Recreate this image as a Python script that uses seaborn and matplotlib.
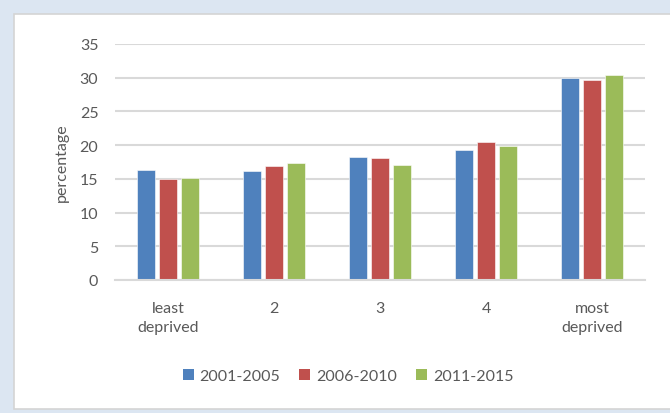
import matplotlib
matplotlib.use("Agg")
import matplotlib.pyplot as plt
from matplotlib.patches import Rectangle, Patch
import seaborn as sns
import pandas as pd

# Deprivation quintiles and the three periods
categories = ["least\ndeprived", "2", "3", "4", "most\ndeprived"]
periods = ["2001-2005", "2006-2010", "2011-2015"]
values_2001_2005 = [16.3, 16.1, 18.3, 19.3, 30.0]
values_2006_2010 = [15.0, 16.9, 18.1, 20.5, 29.7]
values_2011_2015 = [15.2, 17.3, 17.1, 19.9, 30.4]
y_ticks = [0, 5, 10, 15, 20, 25, 30, 35]

colors = ["#4f81bd", "#c0504d", "#9bbb59"]
text_color = "#595959"
grid_color = "#d9d9d9"
fs = 11.5

df = pd.DataFrame({
    "category": categories * 3,
    "period": [periods[0]] * 5 + [periods[1]] * 5 + [periods[2]] * 5,
    "value": values_2001_2005 + values_2006_2010 + values_2011_2015,
})

sns.set_theme(style="white")
plt.rcParams["font.family"] = ["Lato", "DejaVu Sans"]

W, H = 670, 414
fig = plt.figure(figsize=(W / 100, H / 100), dpi=100)
fig.patch.set_facecolor("#dce6f2")

# white chart panel with a thin grey border
panel = Rectangle((14 / W, 1 - 410 / H), 2.0, (410 - 15) / H,
                  transform=fig.transFigure, facecolor="white",
                  edgecolor="#d4d4d4", linewidth=1.2, zorder=-5)
fig.patches.append(panel)

ax = fig.add_axes([115 / W, 1 - 281 / H, (645 - 115) / W, (281 - 45) / H])
ax.set_facecolor("none")
ax.set_zorder(2)

sns.barplot(data=df, x="category", y="value", hue="period",
            order=categories, hue_order=periods, palette=colors,
            saturation=1, width=0.62, gap=0.17,
            edgecolor="#ffffff", linewidth=0.4,
            errorbar=None, ax=ax, zorder=3)

ax.set_ylim(0, 35)
ax.set_yticks(y_ticks)
ax.set_xlim(-0.5, len(categories) - 0.5)
ax.yaxis.grid(True, color=grid_color, linewidth=1.5, zorder=0)
ax.set_axisbelow(True)
for s in ["top", "right", "left"]:
    ax.spines[s].set_visible(False)
ax.spines["bottom"].set_color(grid_color)
ax.spines["bottom"].set_linewidth(1.5)
ax.spines["bottom"].set_zorder(4)

ax.tick_params(axis="both", length=0, labelsize=fs, labelcolor=text_color)
ax.tick_params(axis="y", pad=12)
ax.tick_params(axis="x", pad=15)
for lbl in ax.get_xticklabels():
    lbl.set_linespacing(1.5)

ax.set_xlabel("")
ax.set_ylabel("percentage", color=text_color, fontsize=fs, labelpad=8)

ax.get_legend().remove()
handles = [Patch(facecolor=c, edgecolor="none") for c in colors]
leg = fig.legend(handles, periods, loc="center", bbox_to_anchor=(348 / W, 1 - 377 / H),
                 ncol=3, frameon=False, fontsize=fs, labelcolor=text_color,
                 handlelength=0.7, handleheight=0.7, handletextpad=0.35,
                 columnspacing=1.2)
leg.set_zorder(3)

fig.savefig("out.png", dpi=100)
